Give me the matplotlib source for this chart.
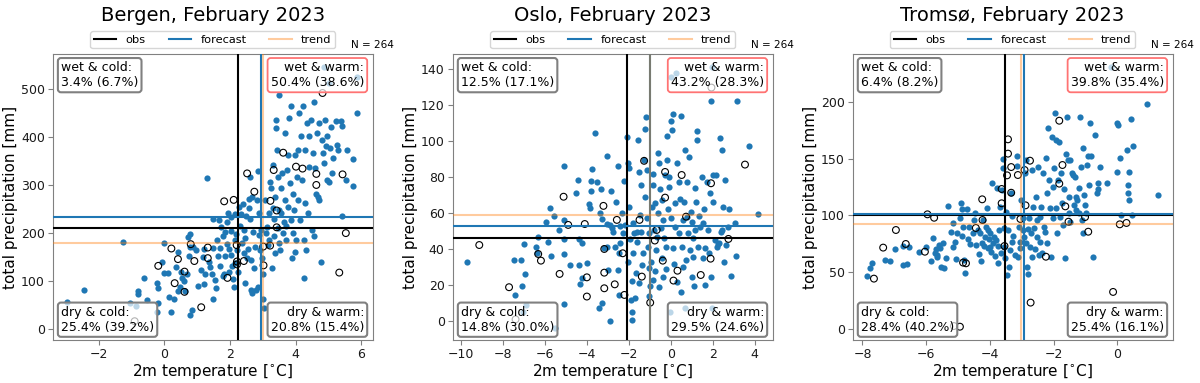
import matplotlib
matplotlib.use("Agg")
import matplotlib.pyplot as plt

# ---------------------------------------------------------------
# data: (temperature [C], precipitation [mm])
# ---------------------------------------------------------------
cities = ["Bergen", "Oslo", "Tromsø"]

bergen_fc = [
    (-2.98, 57), (-2.46, 81), (-1.28, 182), (-0.88, 49), (-1.04, 54), (-0.81, 80), (-0.81, 73),
    (-0.63, 107), (-0.52, 61), (-0.23, 97), (-0.21, 85), (-0.19, 55), (-0.23, 37), (-0.07, 139),
    (-0.03, 180), (0.0, 118), (0.1, 118), (0.15, 68), (0.21, 37), (0.28, 64), (0.36, 129),
    (0.41, 160), (0.42, 80), (0.47, 88), (0.5, 120), (0.54, 107), (0.62, 79), (0.68, 116),
    (0.72, 192), (0.77, 198), (0.77, 172), (0.75, 152), (0.79, 30), (0.83, 40), (0.88, 171),
    (0.96, 164), (1.03, 91), (1.1, 123), (1.18, 150), (1.19, 166), (1.25, 115), (1.29, 315),
    (1.39, 129), (1.45, 116), (1.47, 169), (1.48, 229), (1.49, 64), (1.53, 103), (1.57, 87),
    (1.62, 152), (1.65, 227), (1.68, 132), (1.7, 170), (1.73, 213), (1.77, 193), (1.79, 110),
    (1.8, 116), (1.84, 152), (1.86, 202), (1.9, 223), (1.91, 177), (1.94, 241), (1.96, 120),
    (1.98, 168), (2.02, 155), (2.03, 205), (2.04, 234), (2.07, 132), (2.08, 104), (2.11, 89),
    (2.14, 186), (2.16, 240), (2.18, 199), (2.2, 165), (2.24, 120), (2.28, 255), (2.33, 240),
    (2.35, 180), (2.39, 260), (2.41, 158), (2.43, 206), (2.47, 96), (2.49, 236), (2.52, 148),
    (2.55, 168), (2.57, 252), (2.59, 270), (2.61, 317), (2.64, 144), (2.65, 82), (2.67, 75),
    (2.68, 275), (2.69, 202), (2.74, 127), (2.77, 172), (2.8, 82), (2.82, 269), (2.84, 328),
    (2.85, 89), (2.87, 241), (2.89, 196), (2.93, 206), (2.96, 148), (2.99, 116), (3.01, 64),
    (3.03, 44), (3.07, 269), (3.1, 200), (3.13, 213), (3.16, 175), (3.18, 241), (3.22, 307),
    (3.25, 293), (3.28, 127), (3.3, 342), (3.32, 252), (3.34, 229), (3.36, 158), (3.38, 275),
    (3.4, 418), (3.41, 435), (3.42, 373), (3.45, 210), (3.46, 317), (3.48, 486), (3.5, 248),
    (3.52, 165), (3.54, 241), (3.56, 293), (3.58, 324), (3.6, 200), (3.63, 224), (3.66, 269),
    (3.69, 408), (3.71, 186), (3.73, 331), (3.76, 362), (3.78, 255), (3.81, 439), (3.83, 305),
    (3.85, 227), (3.87, 463), (3.89, 148), (3.91, 282), (3.93, 200), (3.95, 248), (3.97, 161),
    (3.99, 362), (4.02, 186), (4.04, 317), (4.06, 269), (4.08, 373), (4.11, 449), (4.13, 227),
    (4.16, 401), (4.19, 310), (4.21, 463), (4.24, 186), (4.25, 106), (4.27, 262), (4.3, 373),
    (4.32, 165), (4.34, 428), (4.37, 241), (4.4, 338), (4.42, 401), (4.48, 435), (4.5, 206),
    (4.52, 366), (4.55, 193), (4.57, 473), (4.6, 335), (4.62, 282), (4.65, 408), (4.67, 275),
    (4.7, 428), (4.72, 269), (4.77, 141), (4.8, 394), (4.82, 366), (4.85, 546), (4.87, 345),
    (4.9, 435), (4.92, 380), (4.96, 401), (4.97, 310), (5.01, 307), (5.03, 511), (5.06, 377),
    (5.09, 421), (5.11, 324), (5.13, 355), (5.23, 432), (5.25, 384), (5.3, 373), (5.38, 432),
    (5.41, 235), (5.41, 423), (5.53, 310), (5.58, 373), (5.75, 297), (5.75, 353), (5.88, 449),
    (5.86, 525), (1.6, 185), (2.3, 215), (2.45, 190), (2.6, 230), (3.2, 185), (3.35, 195),
    (3.5, 180), (3.7, 215), (2.9, 165), (1.35, 140), (0.6, 100), (2.15, 138), (1.2, 95),
]
bergen_obs = [
    (-0.91, 17), (-0.19, 132), (0.21, 168), (0.31, 96), (0.41, 146), (0.61, 120), (0.61, 78),
    (0.8, 177), (0.91, 142), (1.12, 46), (1.32, 170), (1.32, 148), (1.82, 266), (1.92, 107),
    (2.11, 269), (2.2, 175), (2.21, 141), (2.21, 135), (2.42, 142), (2.52, 324), (2.74, 286),
    (3.01, 172), (3.02, 133), (3.23, 267), (3.22, 174), (3.33, 331), (3.42, 247), (3.42, 212),
    (3.62, 367), (4.01, 338), (4.21, 334), (4.63, 323), (4.63, 300), (4.82, 491), (5.33, 118),
    (5.43, 322), (5.53, 200),
]

oslo_fc = [
    (-9.7, 32.5), (-7.49, 34), (-7.14, 34), (-7.41, 14), (-7.1, 19.5), (-6.94, 26), (-6.98, 42.5),
    (-6.9, 8.5), (-7.05, 4.6), (-6.43, 41.2), (-6.38, 37.5), (-6.32, 46.8), (-5.94, 55),
    (-5.87, 43.6), (-5.75, 62.6), (-5.71, 36.2), (-5.59, 58.3), (-5.35, 50.5), (-5.11, 86.3),
    (-5.11, 37), (-5.08, 56), (-5.11, 9.3), (-5.08, 45.5), (-4.79, 31), (-4.54, 71.3),
    (-4.41, 78.4), (-4.38, 45.3), (-4.37, 31), (-4.32, 20.4), (-4.25, 43), (-4.24, 23.6),
    (-3.97, 32), (-3.92, 65), (-3.86, 62.6), (-3.81, 78), (-3.79, 72.2), (-3.76, 84.3),
    (-3.6, 104.7), (-3.52, 77.4), (-3.41, 7), (-3.37, 60), (-3.33, 73.2), (-3.29, 10),
    (-3.27, 56.8), (-3.19, 40.5), (-3.05, 91.7), (-3.05, 41.2), (-3.02, 53.8), (-2.97, 28.2),
    (-2.89, 0), (-2.89, 53.3), (-2.84, 72.2), (-2.81, 51.8), (-2.73, 49.6), (-2.65, 40.8),
    (-2.6, 66.3), (-2.52, 28.2), (-2.52, 86), (-2.49, 14), (-2.46, 37.5), (-2.41, 52.7),
    (-2.4, 43), (-2.33, 59.8), (-2.27, 48.6), (-2.22, 77.8), (-2.17, 53.3), (-2.1, 102.5),
    (-2.06, 87.6), (-2.02, 32.9), (-2.0, 84.8), (-1.97, 63.5), (-1.94, 45.3), (-1.9, 11.5),
    (-1.87, 22), (-1.86, 0.4), (-1.83, 5), (-1.79, 54.6), (-1.78, 37.5), (-1.75, 48.6),
    (-1.7, 12.8), (-1.67, 26.4), (-1.63, 43.6), (-1.59, 49.6), (-1.57, 100.6), (-1.52, 83),
    (-1.51, 20.8), (-1.46, 58.9), (-1.43, 75.6), (-1.4, 49.6), (-1.38, 31), (-1.33, 37.5),
    (-1.27, 89.5), (-1.25, 69), (-1.21, 107), (-1.17, 113.6), (-1.14, 57), (-1.11, 84),
    (-1.08, 41.2), (-1.06, 13.7), (-1.05, 29.2), (-1.02, 48.6), (-0.98, 19.3), (-0.95, 32.9),
    (-0.9, 63.5), (-0.87, 75.6), (-0.84, 22.6), (-0.83, 81.7), (-0.79, 50.5), (-0.76, 27.8),
    (-0.73, 65.7), (-0.7, 39.4), (-0.67, 46.4), (-0.63, 60.2), (-0.6, 93.6), (-0.57, 87.6),
    (-0.54, 18.6), (-0.51, 73.2), (-0.48, 51.8), (-0.44, 67.2), (-0.41, 35), (-0.38, 24.5),
    (-0.35, 56), (-0.32, 45.9), (-0.29, 81), (-0.25, 29), (-0.22, 41), (-0.19, 102.9),
    (-0.16, 89.5), (-0.13, 62), (-0.1, 80.2), (-0.06, 74.6), (-0.03, 5), (0.0, 111.2),
    (0.03, 57), (0.06, 106), (0.1, 40.3), (0.13, 115), (0.16, 31.4), (0.19, 65.4), (0.22, 52.4),
    (0.25, 137.8), (0.29, 21.7), (0.32, 87.6), (0.37, 48.6), (0.41, 77), (0.44, 68), (0.48, 114),
    (0.51, 16), (0.54, 41), (0.57, 56), (0.6, 30), (0.63, 66.3), (0.68, 7), (0.7, 95),
    (0.73, 33.8), (0.76, 57.6), (0.79, 77.4), (0.84, 48.6), (0.87, 91.3), (0.92, 39.4),
    (0.95, 60.7), (1.0, 55), (1.02, 24.5), (1.05, 45.9), (1.08, 35.6), (1.11, 19), (1.14, 73.7),
    (1.17, 50.5), (1.21, 66.3), (1.24, 105.8), (1.27, 100.6), (1.32, 41.2), (1.37, 58),
    (1.4, 52.4), (1.48, 80.2), (1.52, 54.2), (1.56, 34.7), (1.59, 62), (1.62, 19.9), (1.65, 40.3),
    (1.71, 77.4), (1.79, 50.5), (1.84, 37.5), (1.89, 71), (1.9, 24.5), (1.94, 122.5),
    (1.95, 141.5), (1.97, 7), (2.0, 66.3), (2.03, 81), (2.1, 45), (2.16, 81), (2.19, 41.2),
    (2.27, 42.5), (2.32, 43.5), (2.35, 101.5), (2.38, 49.6), (2.43, 95), (2.46, 50.5),
    (2.48, 63), (2.54, 32.9), (2.59, 78.4), (2.63, 42.2), (2.75, 52.4), (2.79, 62), (2.86, 24.9),
    (3.06, 54.6), (3.11, 36), (3.14, 122.5), (3.75, 97.3), (4.17, 59.4), (0.0, 135.5),
    (-5.54, -3.9),
]
oslo_obs = [
    (-9.13, 42.1), (-7.71, 18.6), (-7.4, 0.7), (-6.32, 37.1), (-6.19, 33.4), (-5.3, 26),
    (-5.11, 69), (-4.89, 53.3), (-4.1, 53.8), (-4.0, 24.1), (-4.0, 13.4), (-3.21, 63.9),
    (-3.17, 39.9), (-3.17, 26.7), (-3.17, 18), (-2.67, 20.2), (-2.57, 56.1), (-2.29, 37.5),
    (-2.21, 14.3), (-1.49, 56.1), (-1.38, 24.5), (-1.27, 89), (-0.98, 10), (-0.76, 44.6),
    (-0.67, 50.5), (-0.38, 33.4), (-0.27, 68.5), (-0.27, 82.8), (0.13, 22.3), (0.32, 27.8),
    (0.52, 81.1), (0.73, 57.9), (1.43, 25.4), (1.9, 34.5), (1.92, 76.5), (1.94, 129.8),
    (2.75, 45.5), (3.54, 86.9),
]

tromso_fc = [
    (-7.87, 46.6), (-7.75, 53.4), (-7.71, 57.8), (-7.3, 60.7), (-7.14, 60.1), (-6.98, 70),
    (-6.74, 73), (-6.72, 56.3), (-6.6, 56.9), (-6.54, 71.8), (-6.23, 68), (-6.0, 71.8),
    (-5.85, 60.1), (-5.8, 79.8), (-5.73, 67.2), (-5.7, 70), (-5.67, 65.1), (-5.65, 63.6),
    (-5.59, 73.6), (-5.57, 71), (-5.54, 54.8), (-5.47, 75.4), (-5.45, 53.4), (-5.39, 62.2),
    (-5.32, 108.2), (-5.21, 85.6), (-5.17, 93), (-5.15, 71.8), (-5.1, 76.8), (-5.05, 61.3),
    (-5.03, 84.2), (-4.94, 97.4), (-4.91, 110.6), (-4.88, 81.8), (-4.86, 105.3), (-4.84, 90),
    (-4.82, 60.7), (-4.79, 49.6), (-4.73, 105.3), (-4.68, 78.9), (-4.65, 90), (-4.61, 74.8),
    (-4.52, 84.2), (-4.5, 95.9), (-4.47, 101.8), (-4.42, 73.9), (-4.38, 87.1), (-4.34, 66),
    (-4.31, 84.2), (-4.28, 60.1), (-4.26, 76), (-4.23, 95.9), (-4.19, 73), (-4.16, 81.2),
    (-4.13, 90), (-4.1, 106.2), (-4.07, 71), (-4.05, 87.1), (-4.02, 78.9), (-4.0, 84.2),
    (-3.98, 72.4), (-3.95, 68), (-3.92, 128.7), (-3.9, 76), (-3.87, 81.2), (-3.84, 64.2),
    (-3.81, 78.3), (-3.77, 123.8), (-3.74, 73), (-3.73, 57.8), (-3.71, 87.1), (-3.69, 107.6),
    (-3.65, 66.6), (-3.62, 122.3), (-3.6, 149.3), (-3.58, 141.3), (-3.56, 88.6), (-3.54, 72.4),
    (-3.52, 62.2), (-3.48, 103.2), (-3.46, 47.5), (-3.42, 87.1), (-3.39, 54.8), (-3.37, 69.5),
    (-3.34, 119.4), (-3.32, 76.8), (-3.29, 99.4), (-3.27, 81.8), (-3.21, 65.1), (-3.16, 143.4),
    (-3.14, 152.2), (-3.11, 63.6), (-3.08, 90), (-3.06, 76.8), (-3.04, 71), (-3.01, 113.5),
    (-2.97, 97.4), (-2.95, 87.1), (-2.92, 81.2), (-2.9, 137), (-2.87, 75.4), (-2.85, 148.7),
    (-2.83, 54.8), (-2.81, 87.7), (-2.79, 48.4), (-2.76, 97.4), (-2.74, 72.4), (-2.72, 84.2),
    (-2.69, 139.9), (-2.67, 63.6), (-2.64, 107.6), (-2.62, 88.6), (-2.59, 70), (-2.55, 116.4),
    (-2.53, 80.6), (-2.51, 95.9), (-2.48, 142.8), (-2.45, 65.1), (-2.43, 98.8), (-2.41, 76.8),
    (-2.38, 107.6), (-2.35, 66.6), (-2.32, 137), (-2.29, 90), (-2.27, 85.6), (-2.24, 150.1),
    (-2.22, 119.4), (-2.2, 75.4), (-2.17, 177.1), (-2.15, 131.1), (-2.12, 106.2), (-2.09, 63),
    (-2.06, 169.2), (-2.03, 97.4), (-2.01, 125.2), (-1.98, 141.3), (-1.95, 189.7),
    (-1.93, 166.3), (-1.91, 106.2), (-1.88, 84.2), (-1.85, 131.1), (-1.82, 164.8), (-1.8, 98.8),
    (-1.77, 137), (-1.74, 110.6), (-1.7, 91.5), (-1.66, 122.9), (-1.63, 62.2), (-1.61, 154),
    (-1.59, 186.8), (-1.56, 148.7), (-1.53, 101.8), (-1.51, 116.4), (-1.49, 148.7),
    (-1.47, 94.4), (-1.42, 137), (-1.4, 135.5), (-1.36, 109.1), (-1.33, 134), (-1.3, 116.4),
    (-1.28, 104.7), (-1.25, 113.5), (-1.21, 101.8), (-1.19, 123.8), (-1.17, 186.8),
    (-1.14, 142.8), (-1.11, 95.9), (-1.09, 158.9), (-1.07, 84.2), (-1.05, 117.9),
    (-1.02, 109.1), (-0.98, 101.8), (-0.96, 144.3), (-0.91, 152.2), (-0.88, 126.7),
    (-0.84, 180.9), (-0.81, 152.2), (-0.75, 63.6), (-0.7, 170.7), (-0.65, 119.4),
    (-0.6, 128.1), (-0.59, 122.9), (-0.54, 142.8), (-0.31, 128.1), (-0.02, 180.9), (0.0, 138.4),
    (0.03, 179.5), (0.08, 150.1), (0.13, 100.3), (0.31, 157.5), (0.34, 119.4), (0.35, 126.7),
    (0.36, 138.4), (0.36, 113.5), (0.42, 184.5), (0.45, 100.3), (0.48, 161.3), (0.92, 197.9),
    (1.29, 117.9), (-0.18, 230.8),
]
tromso_obs = [
    (-7.64, 44.3), (-7.35, 71.6), (-6.95, 87.1), (-6.64, 74.8), (-6.04, 68), (-5.96, 100.9),
    (-5.75, 97.9), (-5.13, 2.6), (-4.94, 2), (-4.84, 58.4), (-4.75, 57.8), (-4.44, 88.9),
    (-4.24, 114.1), (-4.23, 95.9), (-3.63, 123.2), (-3.63, 110.6), (-3.54, 73), (-3.46, 135.2),
    (-3.43, 166.9), (-3.43, 154.3), (-3.33, 119.9), (-3.33, 142.5), (-3.12, 135.5),
    (-3.04, 96.8), (-2.91, 139.9), (-2.88, 108.8), (-2.74, 148.1), (-2.72, 23.2),
    (-2.24, 63.6), (-1.82, 183.3), (-1.82, 127.9), (-1.72, 144.3), (-1.63, 107.9),
    (-1.53, 94.4), (-1.01, 98.5), (-0.91, 85.6), (-0.13, 32.6), (0.08, 92.1), (0.29, 93.3),
]

# medians: obs, forecast, trend  (temperature, precipitation)
obs_t = [2.25, -2.1, -3.52]
obs_p = [211, 45.9, 100.0]
fc_t = [2.95, -0.98, -2.93]
fc_p = [233, 52.9, 100.9]
trend_t = [3.0, -0.97, -3.03]
trend_p = [179, 58.9, 92.7]

# quadrant shares: forecast (climatology)
wet_cold = ["3.4% (6.7%)", "12.5% (17.1%)", "6.4% (8.2%)"]
wet_warm = ["50.4% (38.6%)", "43.2% (28.3%)", "39.8% (35.4%)"]
dry_cold = ["25.4% (39.2%)", "14.8% (30.0%)", "28.4% (40.2%)"]
dry_warm = ["20.8% (15.4%)", "29.5% (24.6%)", "25.4% (16.1%)"]

xlims = [(-3.41, 6.35), (-10.4, 4.86), (-8.31, 1.74)]
ylims = [(-22, 572), (-10.8, 148.5), (-9.7, 242)]
yticks = [range(0, 501, 100), range(0, 141, 20), range(0, 201, 50)]

fc_sets = [bergen_fc, oslo_fc, tromso_fc]
obs_sets = [bergen_obs, oslo_obs, tromso_obs]

fig = plt.figure(figsize=(12, 3.83), dpi=100)

grey_box = dict(boxstyle="round,pad=0.25", facecolor=(1, 1, 1, 0.7), edgecolor="0.5", lw=1.5)
red_box = dict(boxstyle="round,pad=0.25", facecolor=(1, 1, 1, 0.7), edgecolor=(1, 0.45, 0.45), lw=1.3)

for i, city in enumerate(cities):
    ax = fig.add_axes([0.0439 + i * 0.3333, 0.1123, 0.2667, 0.7467])

    ft, fp = zip(*fc_sets[i])
    ot, op = zip(*obs_sets[i])
    ax.scatter(ft, fp, s=20, color="tab:blue", linewidths=0, zorder=2)
    ax.scatter(ot, op, s=24, facecolors="none", edgecolors="k", linewidths=0.8, zorder=3)

    ax.axvline(obs_t[i], color="k", lw=1.5, zorder=4, label="obs")
    ax.axvline(fc_t[i], color="tab:blue", lw=1.5, zorder=4, label="forecast")
    ax.axvline(trend_t[i], color="tab:orange", alpha=0.4, lw=1.5, zorder=4, label="trend")
    ax.axhline(obs_p[i], color="k", lw=1.5, zorder=4)
    ax.axhline(fc_p[i], color="tab:blue", lw=1.5, zorder=4)
    ax.axhline(trend_p[i], color="tab:orange", alpha=0.4, lw=1.5, zorder=4)

    ax.set_xlim(xlims[i])
    ax.set_ylim(ylims[i])
    ax.set_yticks(list(yticks[i]))
    ax.tick_params(labelsize=9, length=3.5, pad=2.2, color="0.5", labelcolor="0.1")
    for sp in ax.spines.values():
        sp.set_color("0.5")

    ax.set_title(f"{city}, February 2023", fontsize=14, pad=24)
    ax.set_xlabel(r"2m temperature [$^{\circ}$C]", fontsize=11, labelpad=0.5)
    ax.set_ylabel("total precipitation [mm]", fontsize=11, labelpad=2)

    ax.legend(loc="lower center", bbox_to_anchor=(0.5, 1.0), ncol=3, fontsize=8.2,
              borderpad=0.3)
    ax.text(1.0, 1.02, "N = 264", transform=ax.transAxes, ha="center", va="baseline",
            fontsize=7.5)

    ax.text(0.026, 0.975, "wet & cold:\n" + wet_cold[i], transform=ax.transAxes,
            ha="left", va="top", fontsize=9, bbox=grey_box, zorder=6)
    ax.text(0.973, 0.975, "wet & warm:\n" + wet_warm[i], transform=ax.transAxes,
            ha="right", va="top", fontsize=9, bbox=red_box, zorder=6, multialignment="right")
    ax.text(0.026, 0.022, "dry & cold:\n" + dry_cold[i], transform=ax.transAxes,
            ha="left", va="bottom", fontsize=9, bbox=grey_box, zorder=6)
    ax.text(0.973, 0.022, "dry & warm:\n" + dry_warm[i], transform=ax.transAxes,
            ha="right", va="bottom", fontsize=9, bbox=grey_box, zorder=6, multialignment="right")

fig.savefig("out.png", dpi=100)
